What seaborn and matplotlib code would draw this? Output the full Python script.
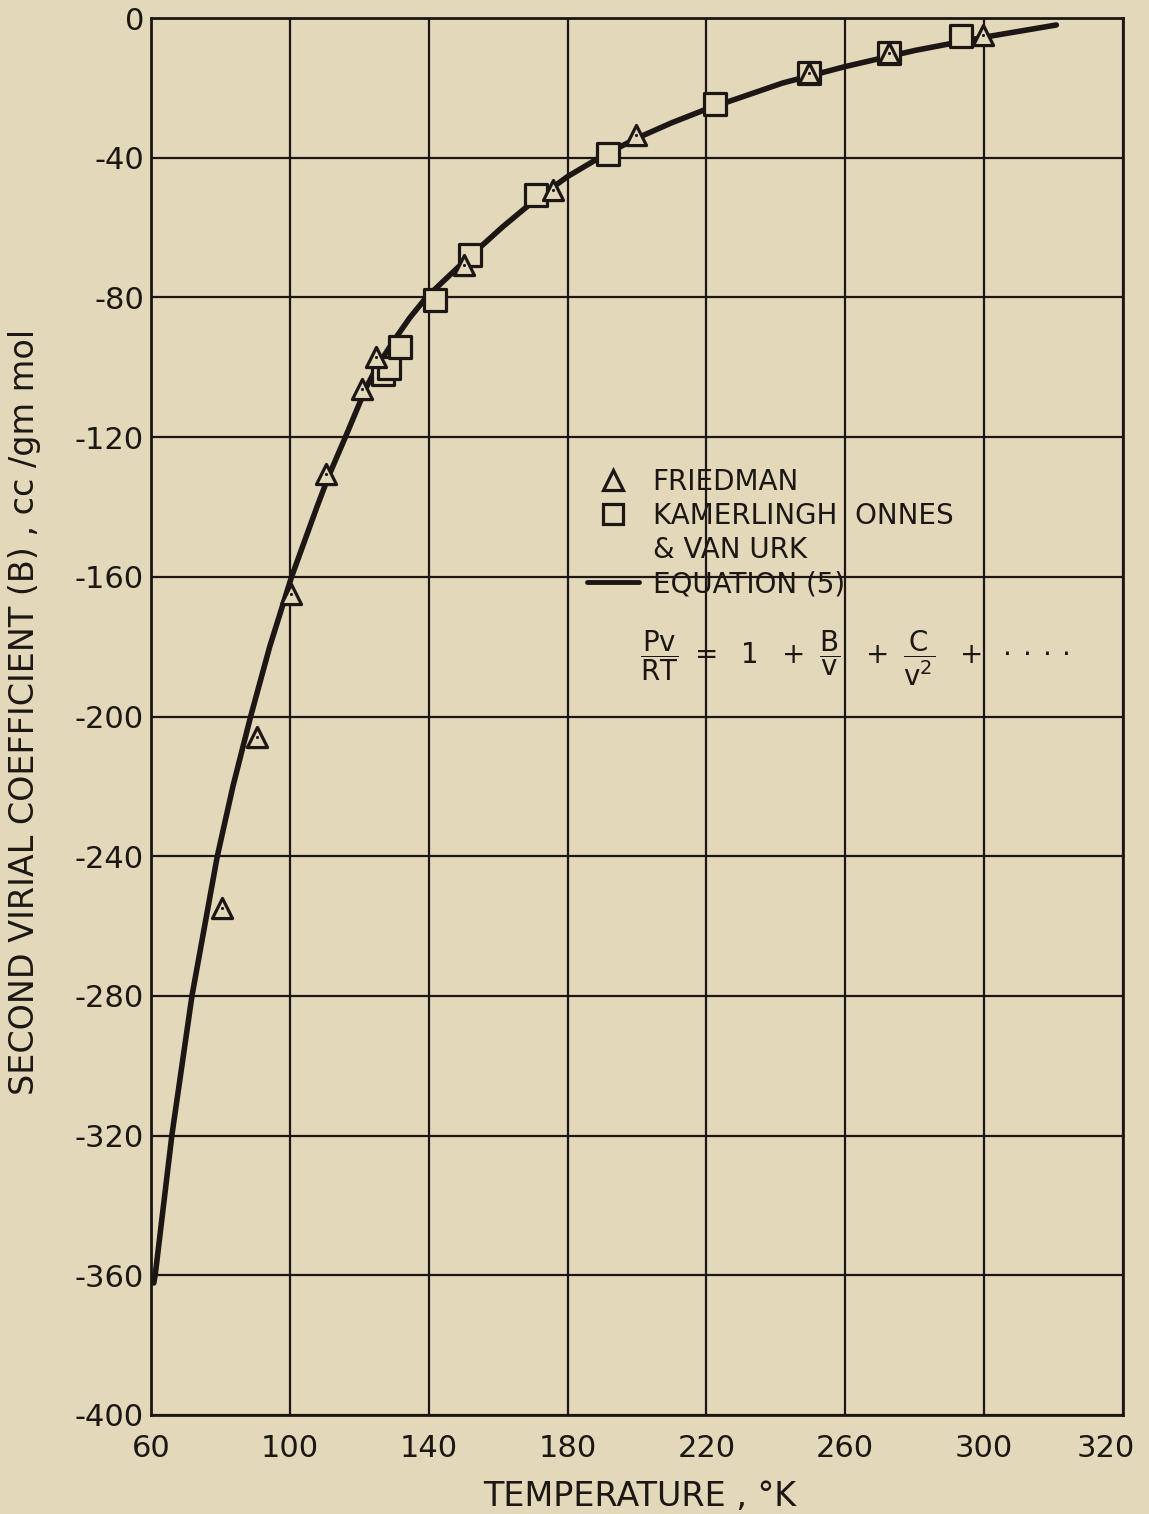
import pandas as pd
import seaborn as sns
import matplotlib.pyplot as plt
from matplotlib.lines import Line2D
from matplotlib.transforms import ScaledTranslation

# colours of the scanned sheet
PAPER = "#e3d8ba"
INK = "#1c1714"

# Friedman measurements (triangles)
friedman_T = [80.4, 90.4, 100.3, 110.4, 120.7, 124.8, 150.2, 175.7, 199.7, 249.6, 272.5, 299.6]
friedman_B = [-254.8, -206.0, -164.8, -130.7, -106.2, -97.1, -70.6, -49.2, -33.4, -15.7, -10.0, -4.8]

# Kamerlingh Onnes & van Urk measurements (squares)
onnes_T = [126.8, 128.5, 131.6, 141.7, 152.0, 170.9, 191.7, 222.5, 249.6, 272.5, 293.4]
onnes_B = [-102.0, -100.2, -94.1, -80.7, -68.0, -50.8, -38.8, -24.5, -15.7, -10.0, -5.2]

# equation (5) curve
eq_T = [60.8, 61.2, 66.0, 71.8, 79.1, 83.6, 88.7, 94.2, 100.5, 107.8, 111.2, 116.0,
        121.8, 125.0, 130.0, 134.5, 139.3, 149.5, 161.3, 170.0, 180.0, 190.0, 200.0,
        210.0, 220.0, 242.0, 260.0, 280.0, 300.0, 320.8]
eq_B = [-362.2, -360.0, -320.0, -280.0, -240.0, -220.0, -200.0, -180.0, -160.0, -140.0,
        -131.1, -120.0, -106.2, -100.0, -92.3, -85.9, -80.0, -70.4, -59.8, -52.6, -45.4,
        -39.5, -34.4, -30.0, -26.1, -18.6, -13.9, -9.3, -5.5, -2.0]

x_ticks = [60, 100, 140, 180, 220, 260, 300, 340]
x_tick_labels = ["60", "100", "140", "180", "220", "260", "300", "320"]
y_ticks = list(range(-400, 1, 40))

friedman = pd.DataFrame({"T": friedman_T, "B": friedman_B})
onnes = pd.DataFrame({"T": onnes_T, "B": onnes_B})
equation = pd.DataFrame({"T": eq_T, "B": eq_B})

sns.set_theme(style="white")
plt.rcParams["font.family"] = ["DejaVu Sans"]
plt.rcParams["mathtext.fontset"] = "dejavusans"

fig = plt.figure(figsize=(11.49, 15.14), dpi=100, facecolor=PAPER)
ax = fig.add_axes([151 / 1149, 1 - 1415 / 1514, 972 / 1149, 1397 / 1514])
ax.set_facecolor(PAPER)

sns.lineplot(data=equation, x="T", y="B", ax=ax, color=INK, linewidth=4,
             sort=False, zorder=3, solid_capstyle="round", solid_joinstyle="round")
sns.scatterplot(data=onnes, x="T", y="B", ax=ax, marker="s", s=250,
                facecolor=PAPER, edgecolor=INK, linewidth=2.3, zorder=4)
sns.scatterplot(data=friedman, x="T", y="B", ax=ax, marker="^", s=210,
                facecolor=PAPER, edgecolor=INK, linewidth=2.3, zorder=5)
sns.scatterplot(data=friedman, x="T", y="B", ax=ax, marker="o", s=5,
                color=INK, linewidth=0, zorder=6)

ax.set_xlim(60, 340)
ax.set_ylim(-400, 0)
ax.set_xticks(x_ticks)
ax.set_xticklabels(x_tick_labels)
ax.set_yticks(y_ticks)
ax.set_yticklabels([str(v) for v in y_ticks])
ax.grid(True, color=INK, linewidth=1.6)
ax.set_axisbelow(True)
for sp in ax.spines.values():
    sp.set_color(INK)
    sp.set_linewidth(2)
ax.tick_params(axis="both", length=0, labelsize=22, colors=INK)
ax.tick_params(axis="x", pad=14)
ax.tick_params(axis="y", pad=5)
ax.set_xlabel("")
ax.set_ylabel("")

# last x label sits a little inside the frame on the original
last = ax.get_xticklabels()[-1]
last.set_transform(last.get_transform() + ScaledTranslation(-0.17, 0, fig.dpi_scale_trans))

fig.text(640 / 1149, 1 - 1497 / 1514, "TEMPERATURE , °K", ha="center", va="center",
         fontsize=24, color=INK)
fig.text(25 / 1149, 1 - 712 / 1514, "SECOND VIRIAL COEFFICIENT (B) , cc /gm mol",
         ha="center", va="center", rotation=90, fontsize=24, color=INK)

handles = [
    Line2D([], [], marker="^", ms=15, mfc=PAPER, mec=INK, mew=2.3, ls="none"),
    Line2D([], [], marker="s", ms=14, mfc=PAPER, mec=INK, mew=2.3, ls="none"),
    Line2D([], [], ls="none"),
    Line2D([], [], color=INK, lw=3.5),
]
labels = ["FRIEDMAN", "KAMERLINGH  ONNES", "& VAN URK", "EQUATION (5)"]
leg = ax.legend(handles, labels, loc="upper left", bbox_to_anchor=(0.449, 0.678),
                frameon=False, fontsize=20, handlelength=1.85, handletextpad=0.5,
                labelspacing=0.22, borderpad=0, borderaxespad=0)
for t in leg.get_texts():
    t.set_color(INK)

ax.text(0.503, 0.542,
        r"$\mathsf{\dfrac{Pv}{RT}\ =\ \ 1\ \ +\ \dfrac{B}{v}\ \ +\ \dfrac{C}{v^2}\ \ +\ \cdot\cdot\cdot\cdot}$",
        transform=ax.transAxes, ha="left", va="center", fontsize=20, color=INK)

fig.savefig("out.png", dpi=100, facecolor=PAPER)
